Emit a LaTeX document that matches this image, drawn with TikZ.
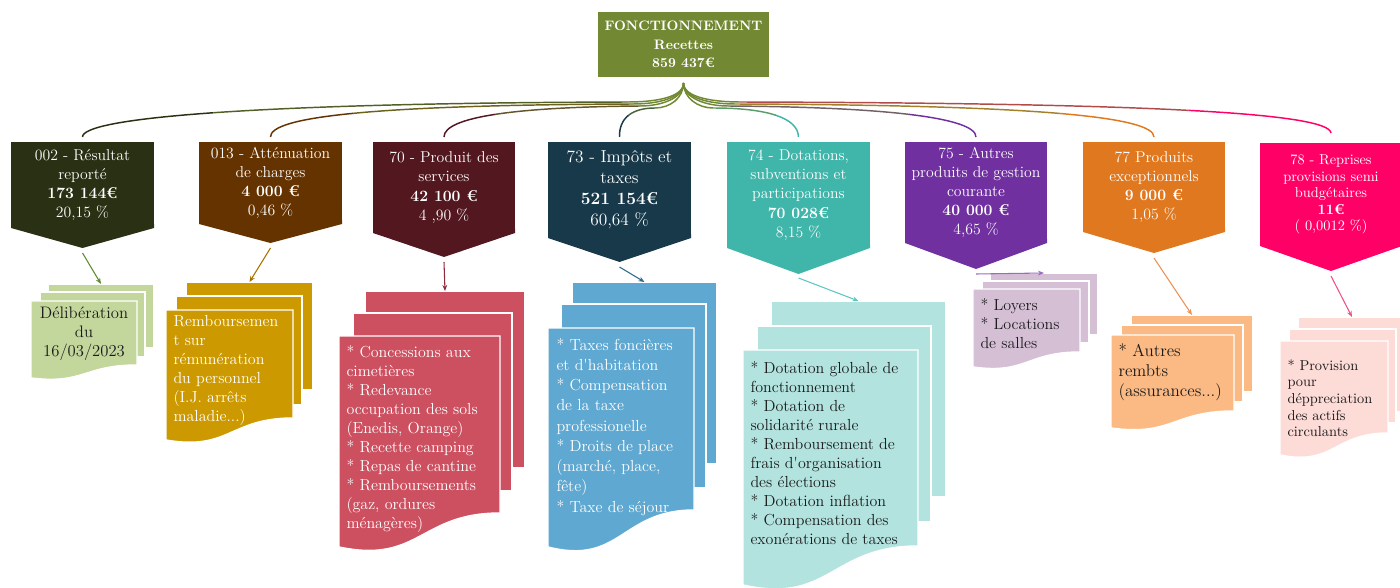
\documentclass[tikz,border=0pt]{standalone}
\usetikzlibrary{calc,arrows.meta}

\definecolor{rootc}{HTML}{728833}
\definecolor{c1}{HTML}{2A3013}
\definecolor{c2}{HTML}{653300}
\definecolor{c3}{HTML}{52171F}
\definecolor{c4}{HTML}{17394A}
\definecolor{c5}{HTML}{40B5AA}
\definecolor{c6}{HTML}{7030A0}
\definecolor{c7}{HTML}{E07820}
\definecolor{c8}{HTML}{FF0066}
\definecolor{s1}{HTML}{C3D69B}
\definecolor{s2}{HTML}{CC9900}
\definecolor{s3}{HTML}{CC5060}
\definecolor{s4}{HTML}{5FA8D1}
\definecolor{s5}{HTML}{B2E3DF}
\definecolor{s6}{HTML}{D5BFD5}
\definecolor{s7}{HTML}{FBBA84}
\definecolor{s8}{HTML}{FDDCD8}
\definecolor{a1}{HTML}{5E8A2E}
\definecolor{a2}{HTML}{A87000}
\definecolor{a3}{HTML}{8E2B3A}
\definecolor{a4}{HTML}{2F6A8E}
\definecolor{a5}{HTML}{5CC8C0}
\definecolor{a6}{HTML}{9A6CC0}
\definecolor{a7}{HTML}{EC9050}
\definecolor{a8}{HTML}{F25088}
\definecolor{ink}{HTML}{1A1A1A}

\newcommand{\px}{0.75pt}

\tikzset{every picture/.style={line width=0.75pt}}
\tikzset{
  box/.style={anchor=north west, inner sep=0pt, outer sep=0pt, align=center, text=white, font=\fontsize{11.8}{14.4}\selectfont},
  page/.style={anchor=north west, inner sep=0pt, outer sep=0pt, draw=white, line width=1.1pt},
  frame/.style={anchor=north west, inner sep=0pt, outer sep=0pt},
  sheet/.style={draw=white, line width=1.1pt},
  note/.style={anchor=north west, inner sep=0pt, align=left, font=\fontsize{12}{14.25}\selectfont},
  link/.style={line width=1.1pt},
  arr/.style={line width=0.8pt, -{Stealth[length=4.5pt,width=3.6pt]}},
}

% curved link from the hub: #1 joint, #2 joint handle, #3 #4 controls, #5 end, #6 colour
\newcommand{\branch}[6]{%
  \path #1 coordinate (j0) #3 coordinate (j1) #4 coordinate (j2) #5 coordinate (j3);
  \draw[link, rootc] (hub) .. controls +(0,15) and +(#2,0) .. (j0);
  \draw[link, #6!45!rootc] (j0) .. controls ($(j0)!0.5!(j1)$) and ($0.25*(j0)+0.5*(j1)+0.25*(j2)$) .. ($0.125*(j0)+0.375*(j1)+0.375*(j2)+0.125*(j3)$) coordinate (jm);
  \draw[link, #6] (jm) .. controls ($0.25*(j1)+0.5*(j2)+0.25*(j3)$) and ($(j2)!0.5!(j3)$) .. (j3);
}

% point of a chapter box: #1 node, #2 depth, #3 colour
\newcommand{\tip}[3]{%
  \fill[#3] ($(#1.south west)+(0,-4)$) -- ($(#1.south east)+(0,-4)$) -- (#1.south east) -- ($(#1.south)+(0,#2)$) -- (#1.south west) -- cycle;
}

\begin{document}
\begin{tikzpicture}[x=0.75pt,y=0.75pt,yscale=-1,xscale=1]
\useasboundingbox (0,0) rectangle (1400,588);

% Text Node
\node[box, fill=rootc, minimum width=171*\px, minimum height=65*\px, font=\bfseries\fontsize{10.3}{14}\selectfont] (root) at (598,12) {FONCTIONNEMENT\\Recettes\\859 437€};
\coordinate (hub) at ($(root.south)+(0,6)$);

%Shapes: chapters
\node[box, fill=c1, minimum width=143*\px, minimum height=86*\px] (b1) at (11,142) {002 - Résultat\\reporté\\\textbf{173 144€}\\20,15 \%};
\tip{b1}{20}{c1}

\node[box, fill=c2, minimum width=143*\px, minimum height=82*\px] (b2) at (199,142) {013 - Atténuation\\de charges\\\textbf{4 000 €}\\0,46 \%};
\tip{b2}{19}{c2}

\node[box, fill=c3, minimum width=142*\px, minimum height=91*\px] (b3) at (373,142) {70 - Produit des\\services\\\textbf{42 100 €}\\4 ,90 \%};
\tip{b3}{24}{c3}

\node[box, fill=c4, minimum width=143*\px, minimum height=96*\px, font=\fontsize{13}{15.75}\selectfont] (b4) at (548,142) {73 - Impôts et\\taxes\\\textbf{521 154€}\\60,64 \%};
\tip{b4}{24}{c4}

\node[box, fill=c5, minimum width=143*\px, minimum height=106*\px] (b5) at (727,142) {74 - Dotations,\\subventions et\\participations\\\textbf{70 028€}\\8,15 \%};
\tip{b5}{26}{c5}

\node[box, fill=c6, minimum width=142*\px, minimum height=101*\px] (b6) at (905,142) {75 - Autres\\produits de gestion\\courante\\\textbf{40 000 €}\\4,65 \%};
\tip{b6}{26}{c6}

\node[box, fill=c7, minimum width=142*\px, minimum height=90*\px] (b7) at (1083,142) {77 Produits\\exceptionnels\\\textbf{9 000 €}\\1,05 \%};
\tip{b7}{21}{c7}

\node[box, fill=c8, minimum width=142*\px, minimum height=103*\px, font=\fontsize{10.8}{12.3}\selectfont] (b8) at (1260,143) {78 - Reprises\\provisions semi\\budgétaires\\\textbf{11€}\\( 0,0012 \%)};
\tip{b8}{25}{c8}

%Curve Lines
\branch{(628,102)}{25}{(250,103)}{(82,118)}{($(b1.north)+(0,-5)$)}{c1}
\branch{(633,104)}{25}{(370,105)}{(270,117)}{($(b2.north)+(0,-5)$)}{c2}
\branch{(640,106)}{22}{(515,107)}{(444,117)}{($(b3.north)+(0,-5)$)}{c3}
\branch{(655,108)}{15}{(632,108)}{(619,118)}{($(b4.north)+(0,-5)$)}{c4}
\branch{(713,108)}{-15}{(768,108)}{(798,118)}{($(b5.north)+(0,-5)$)}{c5}
\branch{(728,106)}{-22}{(880,107)}{(976,117)}{($(b6.north)+(0,-5)$)}{c6}
\branch{(735,104)}{-25}{(1040,105)}{(1154,117)}{($(b7.north)+(0,-5)$)}{c7}
\branch{(740,102)}{-25}{(1150,103)}{(1329,113)}{($(b8.north)+(0,-10)$)}{c8}

%Shapes: pages 002
\node[page, fill=s1, minimum width=106*\px, minimum height=64*\px] (p1c) at (48,284) {};
\node[page, fill=s1, minimum width=105*\px, minimum height=65*\px] (p1b) at (40,292) {};
\node[frame, minimum width=106*\px, minimum height=64*\px] (p1) at (31,301) {};
\filldraw[sheet, fill=s1] (p1.north west) -- (p1.north east) -- (p1.south east) .. controls +(-53,0) and +(53,6.5) .. ($(p1.south west)+(0,13)$) -- cycle;
% Text Node
\node[note, anchor=center, align=center, text=ink, font=\fontsize{12.5}{14.25}\selectfont] (t1) at (84,334) {Délibération\\du\\16/03/2023};

%Shapes: pages 013
\node[page, fill=s2, minimum width=127*\px, minimum height=108*\px] (p2c) at (186,282) {};
\node[page, fill=s2, minimum width=126*\px, minimum height=109*\px] (p2b) at (176,296) {};
\node[frame, minimum width=127*\px, minimum height=108*\px] (p2) at (166,310) {};
\filldraw[sheet, fill=s2] (p2.north west) -- (p2.north east) -- (p2.south east) .. controls +(-63.5,0) and +(63.5,11) .. ($(p2.south west)+(0,22)$) -- cycle;
% Text Node
\node[note, text=white] (t2) at (173,314.5) {Remboursemen\\t sur\\rémunération\\du personnel\\(I.J. arrêts\\maladie...)};

%Shapes: pages 70
\node[page, fill=s3, minimum width=160*\px, minimum height=177*\px] (p3c) at (365,291) {};
\node[page, fill=s3, minimum width=159*\px, minimum height=178*\px] (p3b) at (353,313) {};
\node[frame, minimum width=161*\px, minimum height=177*\px] (p3) at (339,336) {};
\filldraw[sheet, fill=s3] (p3.north west) -- (p3.north east) -- (p3.south east) .. controls +(-80.5,0) and +(80.5,17) .. ($(p3.south west)+(0,34)$) -- cycle;
% Text Node
\node[note, text=white] (t3) at (346,344.5) {* Concessions aux\\cimetières\\* Redevance\\occupation des sols\\(Enedis, Orange)\\* Recette camping\\* Repas de cantine\\* Remboursements\\(gaz, ordures\\ménagères)};

%Shapes: pages 73
\node[page, fill=s4, minimum width=145*\px, minimum height=182*\px] (p4c) at (572,282) {};
\node[page, fill=s4, minimum width=145*\px, minimum height=184*\px] (p4b) at (561,304) {};
\node[frame, minimum width=146*\px, minimum height=182*\px] (p4) at (548,328) {};
\filldraw[sheet, fill=s4] (p4.north west) -- (p4.north east) -- (p4.south east) .. controls +(-73,0) and +(73,18.5) .. ($(p4.south west)+(0,37)$) -- cycle;
% Text Node
\node[note, text=white, font=\fontsize{12}{15.2}\selectfont] (t4) at (556,337.5) {* Taxes foncières\\et d\textquotesingle habitation\\* Compensation\\de la taxe\\professionelle\\* Droits de place\\(marché, place,\\fête)\\* Taxe de séjour};

%Shapes: pages 74
\node[page, fill=s5, minimum width=175*\px, minimum height=196*\px] (p5c) at (771,301) {};
\node[page, fill=s5, minimum width=174*\px, minimum height=196*\px] (p5b) at (757,326) {};
\node[frame, minimum width=175*\px, minimum height=196*\px] (p5) at (743,350) {};
\filldraw[sheet, fill=s5] (p5.north west) -- (p5.north east) -- (p5.south east) .. controls +(-87.5,0) and +(87.5,19.5) .. ($(p5.south west)+(0,39)$) -- cycle;
% Text Node
\node[note, text=ink] (t5) at (750,360.5) {* Dotation globale de\\fonctionnement\\* Dotation de\\solidarité rurale\\* Remboursement de\\frais d\textquotesingle organisation\\des élections\\* Dotation inflation\\* Compensation des\\exonérations de taxes};

%Shapes: pages 75
\node[page, fill=s6, minimum width=108*\px, minimum height=62*\px] (p6c) at (990,273) {};
\node[page, fill=s6, minimum width=107*\px, minimum height=62*\px] (p6b) at (982,281) {};
\node[frame, minimum width=107*\px, minimum height=63*\px] (p6) at (973,289) {};
\filldraw[sheet, fill=s6] (p6.north west) -- (p6.north east) -- (p6.south east) .. controls +(-53.5,0) and +(53.5,7.5) .. ($(p6.south west)+(0,15)$) -- cycle;
% Text Node
\node[note, text=ink] (t6) at (980,297.5) {* Loyers\\* Locations\\de salles};

%Shapes: pages 77
\node[page, fill=s7, minimum width=122*\px, minimum height=77*\px] (p7c) at (1131,315) {};
\node[page, fill=s7, minimum width=122*\px, minimum height=77*\px] (p7b) at (1121,325) {};
\node[frame, minimum width=123*\px, minimum height=76*\px] (p7) at (1111,335) {};
\filldraw[sheet, fill=s7] (p7.north west) -- (p7.north east) -- (p7.south east) .. controls +(-61.5,0) and +(61.5,8.5) .. ($(p7.south west)+(0,17)$) -- cycle;
% Text Node
\node[note, text=ink, font=\fontsize{12.8}{15}\selectfont] (t7) at (1118,343) {* Autres\\rembts\\(assurances...)};

%Shapes: pages 78
\node[page, fill=s8, minimum width=108*\px, minimum height=95*\px] (p8c) at (1298,317) {};
\node[page, fill=s8, minimum width=107*\px, minimum height=94*\px] (p8b) at (1289,329) {};
\node[frame, minimum width=108*\px, minimum height=92*\px] (p8) at (1280,341) {};
\filldraw[sheet, fill=s8] (p8.north west) -- (p8.north east) -- (p8.south east) .. controls +(-54,0) and +(54,11) .. ($(p8.south west)+(0,22)$) -- cycle;
% Text Node
\node[note, text=ink, font=\fontsize{10.8}{12.5}\selectfont] (t8) at (1287,359) {* Provision\\pour\\déppreciation\\des actifs\\circulants};

%Straight Lines
\draw[arr, a1] ($(b1.south)+(0,25)$) -- (p1c.north);
\draw[arr, a2] ($(b2.south)+(0,24)$) -- (p2c.north);
\draw[arr, a3] ($(b3.south)+(0,29)$) -- (p3c.north);
\draw[arr, a4] ($(b4.south)+(0,29)$) -- (p4c.north);
\draw[arr, a5] ($(b5.south)+(0,30)$) -- (p5c.north);
\draw[arr, a6] ($(b6.south)+(0,31)$) -- (p6c.north);
\draw[arr, a7] ($(b7.south)+(0,26)$) -- (p7c.north);
\draw[arr, a8] ($(b8.south)+(0,30)$) -- (p8c.north);

\end{tikzpicture}
\end{document}
